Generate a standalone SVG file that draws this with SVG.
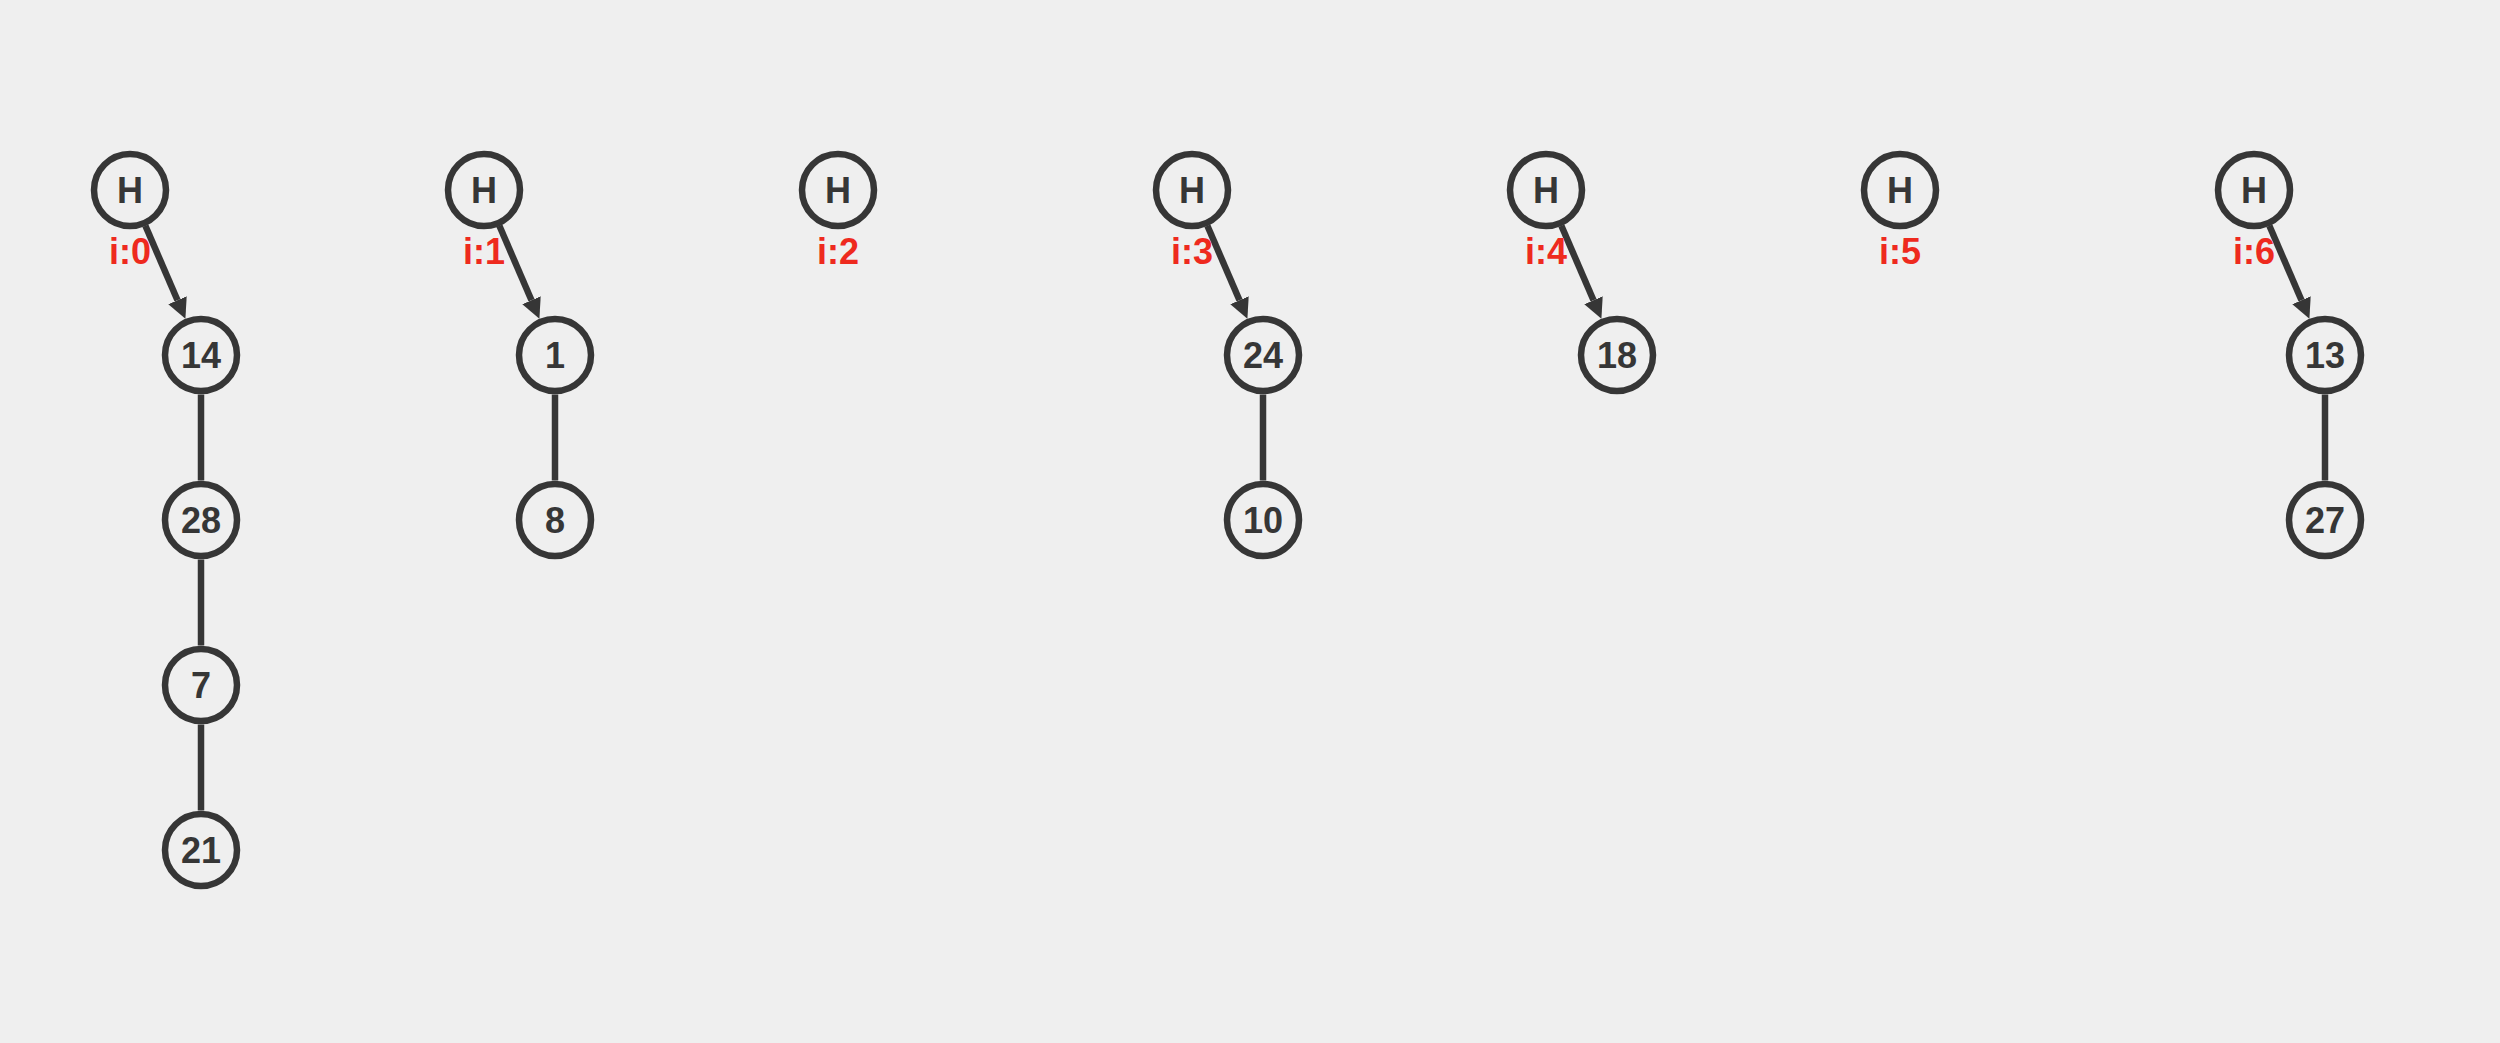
<svg xmlns="http://www.w3.org/2000/svg" width="2500" height="1043" viewBox="0 0 2500 1043">
<style>
.n circle{fill:none;stroke:#363636;stroke-width:6.5}
.n text{font-family:"Liberation Sans",Arial,sans-serif;font-weight:bold;font-size:36px;fill:#363636;text-anchor:middle}
.lbl{font-family:"Liberation Sans",Arial,sans-serif;font-weight:bold;font-size:36px;fill:#ee2a1e;text-anchor:middle}
.c line{stroke:#363636;stroke-width:6.5}
</style>
<defs>
<marker id="ah" markerUnits="userSpaceOnUse" viewBox="0 0 20 20" refX="0" refY="10" markerWidth="20" markerHeight="20" orient="auto">
<path d="M0,0 L20,10 L0,20 z" fill="#363636"/>
</marker>
</defs>
<rect width="2500" height="1043" fill="#efefef"/>
<g id="connectors" class="c">
<line x1="145.4" y1="225.8" x2="177.5" y2="300.3" marker-end="url(#ah)"/>
<line x1="201" y1="394.5" x2="201" y2="480.5"/>
<line x1="201" y1="559.5" x2="201" y2="645.5"/>
<line x1="201" y1="724.5" x2="201" y2="810.5"/>
<line x1="499.4" y1="225.8" x2="531.5" y2="300.3" marker-end="url(#ah)"/>
<line x1="555" y1="394.5" x2="555" y2="480.5"/>
<line x1="1207.4" y1="225.8" x2="1239.5" y2="300.3" marker-end="url(#ah)"/>
<line x1="1263" y1="394.5" x2="1263" y2="480.5"/>
<line x1="1561.4" y1="225.8" x2="1593.5" y2="300.3" marker-end="url(#ah)"/>
<line x1="2269.4" y1="225.8" x2="2301.5" y2="300.3" marker-end="url(#ah)"/>
<line x1="2325" y1="394.5" x2="2325" y2="480.5"/>
</g>
<g id="labels">
<text class="lbl" x="130" y="264">i:0</text>
<text class="lbl" x="484" y="264">i:1</text>
<text class="lbl" x="838" y="264">i:2</text>
<text class="lbl" x="1192" y="264">i:3</text>
<text class="lbl" x="1546" y="264">i:4</text>
<text class="lbl" x="1900" y="264">i:5</text>
<text class="lbl" x="2254" y="264">i:6</text>
</g>
<g id="h0" class="n"><circle cx="130" cy="190" r="36"/><text x="130" y="203">H</text></g>
<g id="h1" class="n"><circle cx="484" cy="190" r="36"/><text x="484" y="203">H</text></g>
<g id="h2" class="n"><circle cx="838" cy="190" r="36"/><text x="838" y="203">H</text></g>
<g id="h3" class="n"><circle cx="1192" cy="190" r="36"/><text x="1192" y="203">H</text></g>
<g id="h4" class="n"><circle cx="1546" cy="190" r="36"/><text x="1546" y="203">H</text></g>
<g id="h5" class="n"><circle cx="1900" cy="190" r="36"/><text x="1900" y="203">H</text></g>
<g id="h6" class="n"><circle cx="2254" cy="190" r="36"/><text x="2254" y="203">H</text></g>
<g id="n14" class="n"><circle cx="201" cy="355" r="36"/><text x="201" y="368">14</text></g>
<g id="n28" class="n"><circle cx="201" cy="520" r="36"/><text x="201" y="533">28</text></g>
<g id="n7" class="n"><circle cx="201" cy="685" r="36"/><text x="201" y="698">7</text></g>
<g id="n21" class="n"><circle cx="201" cy="850" r="36"/><text x="201" y="863">21</text></g>
<g id="n1" class="n"><circle cx="555" cy="355" r="36"/><text x="555" y="368">1</text></g>
<g id="n8" class="n"><circle cx="555" cy="520" r="36"/><text x="555" y="533">8</text></g>
<g id="n24" class="n"><circle cx="1263" cy="355" r="36"/><text x="1263" y="368">24</text></g>
<g id="n10" class="n"><circle cx="1263" cy="520" r="36"/><text x="1263" y="533">10</text></g>
<g id="n18" class="n"><circle cx="1617" cy="355" r="36"/><text x="1617" y="368">18</text></g>
<g id="n13" class="n"><circle cx="2325" cy="355" r="36"/><text x="2325" y="368">13</text></g>
<g id="n27" class="n"><circle cx="2325" cy="520" r="36"/><text x="2325" y="533">27</text></g>
</svg>
